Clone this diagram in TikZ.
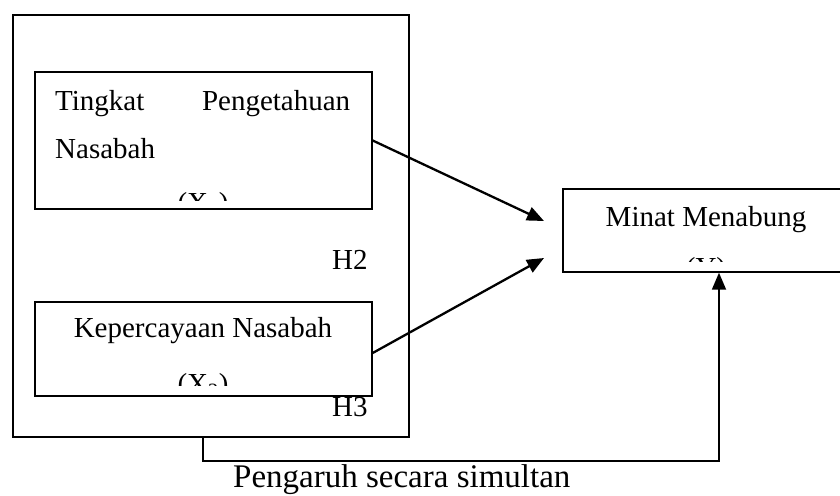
\documentclass[tikz,border=0pt]{standalone}
\usepackage{fontspec}
\setmainfont{Liberation Serif}
\usetikzlibrary{arrows.meta}
\begin{document}
\begin{tikzpicture}[x=1pt,y=-1pt,
  box/.style={draw,line width=1.4pt,fill=white,inner sep=0pt},
  txt/.style={inner sep=0pt,font=\fontsize{29}{35}\selectfont},
  arr/.style={line width=2.3pt,-{Triangle[length=17pt,width=14pt]}},
  link/.style={line width=1.8pt,-{Triangle[length=17pt,width=14pt]}}]
\useasboundingbox (0,0) rectangle (840,495);
% outer frame
\node[box,minimum width=396pt,minimum height=422pt] (outer) at (211,226) {};
\node[txt,anchor=base west] (h2) at (332,269) {H2};
\node[txt,anchor=base west] (h3) at (332,416) {H3};
% box 1
\node[box,minimum width=337pt,minimum height=137pt] (b1) at (203.5,140.5) {};
% box 2
\node[box,minimum width=337pt,minimum height=94pt] (b2) at (203.5,349) {};
% Minat box
\node[box,minimum width=286pt,minimum height=83pt] (m) at (706,230.5) {};
% texts
\begin{scope}
\clip (36,73) rectangle (371,200.5);
\node[txt,anchor=base west] (t1a) at (55,110) {\makebox[295pt][s]{Tingkat Pengetahuan}};
\node[txt,anchor=base west] (t1b) at (55,158) {Nasabah};
\node[txt,anchor=base] (t1c) at (203,212.5) {(X\textsubscript{1})};
\end{scope}
\begin{scope}
\clip (36,303) rectangle (371,385);
\node[txt,anchor=base] (t2a) at (203,337) {Kepercayaan Nasabah};
\node[txt,anchor=base] (t2b) at (203,393) {(X\textsubscript{2})};
\end{scope}
\begin{scope}
\clip (564,190) rectangle (840,261);
\node[txt,anchor=base] (t3a) at (706,226) {Minat Menabung};
\node[txt,anchor=base] (t3b) at (706,277) {(Y)};
\end{scope}
% connectors
\coordinate (e1) at (544,221);
\coordinate (e2) at (544,258);
\draw[arr] (b1.east) -- (e1);
\draw[arr] ([yshift=-4pt]b2.east) -- (e2);
\draw[link] ([xshift=-8pt]outer.south) -- ++(0,23) -| ([xshift=13pt]m.south);
\node[inner sep=0pt,anchor=base west,font=\fontsize{33}{40}\selectfont] (lbl) at (233,487) {Pengaruh secara simultan};
\end{tikzpicture}
\end{document}
